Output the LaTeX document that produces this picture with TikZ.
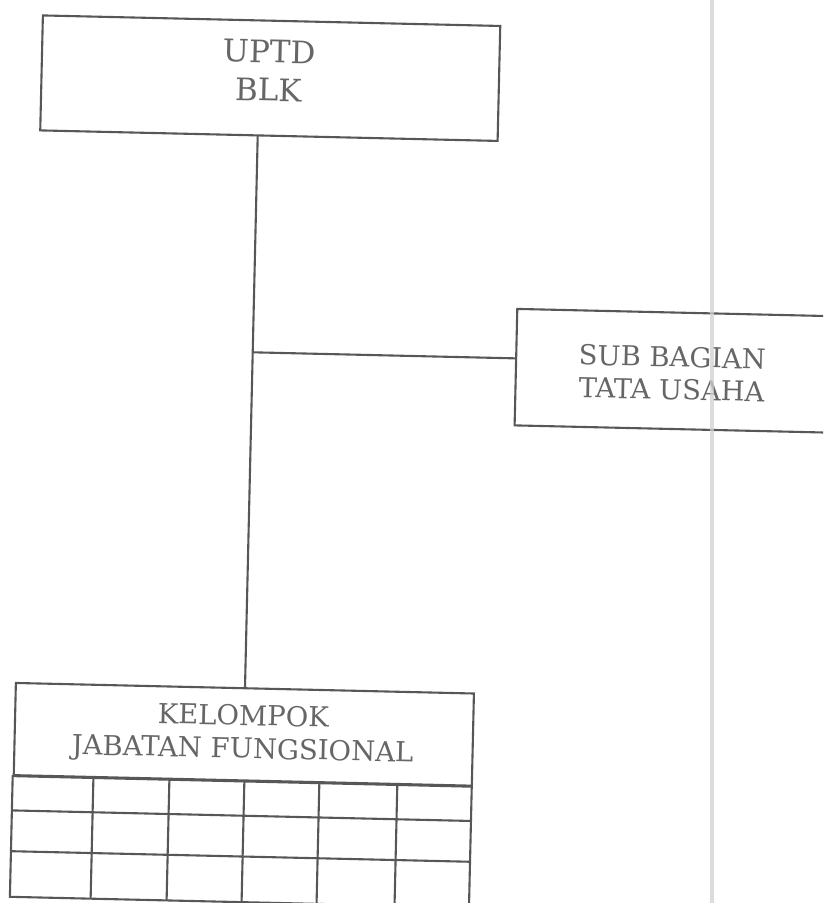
\documentclass[tikz,border=0pt]{standalone}
\usepackage{fontspec}
\setmainfont{DejaVu Serif}
\definecolor{ln}{gray}{0.34}
\definecolor{tx}{gray}{0.40}
\definecolor{foldc}{gray}{0.82}
\tikzset{
  box/.style={draw=ln, line width=2.1pt, rectangle, inner sep=0pt},
  lbl/.style={text=tx, align=center, inner sep=0pt},
  conn/.style={draw=ln, line width=2.1pt},
  gridline/.style={draw=ln, line width=2.1pt},
  fold/.style={draw=foldc, line width=4pt, opacity=0.75},
}
\begin{document}
\begin{tikzpicture}[x=1pt,y=-1pt]
\clip (0,0) rectangle (823,903);
\fill[white] (0,0) rectangle (823,903);
\begin{scope}[rotate around={-1.32:(411,451)}, transform shape]
  % top box
  \node[box, minimum width=457.5pt, minimum height=115pt] (uptd) at (261.7,81.5) {};
  \node[lbl, font=\fontsize{31}{38}\selectfont] (uptdT) at (260,74) {UPTD\\BLK};
  % side box
  \node[box, minimum width=312pt, minimum height=116.5pt] (sub) at (670,364.75) {};
  \node[lbl, font=\fontsize{27.4}{32.7}\selectfont] (subT) at (670.2,367.3) {SUB BAGIAN\\TATA USAHA};
  % bottom box header
  \node[box, minimum width=458.2pt, minimum height=92.2pt] (kel) at (250.4,738.1) {};
  \node[lbl, font=\fontsize{27.5}{33}\selectfont] (kelT) at (249.5,738.2) {KELOMPOK\\JABATAN FUNGSIONAL};
  % table grid
  \coordinate (tbr) at (479.5,906);
  \draw[gridline] (kel.south west) rectangle (tbr);
  \foreach \yy in {819.5,860.3} \draw[gridline] (21.3,\yy) -- (479.5,\yy);
  \foreach \xx in {101,177,252,327,405} \draw[gridline] (\xx,784.2) -- (\xx,906);
  % connectors
  \coordinate (vt) at (250.5,139);
  \coordinate (j) at (250.5,356);
  \coordinate (vb) at (250.5,692);
  \coordinate (sw) at (514,356);
  \draw[conn] (vt) -- (j) -- (vb);
  \draw[conn] (j) -- (sw);
\end{scope}
\coordinate (ft) at (711.5,0);
\coordinate (fb) at (711.5,903);
\draw[fold] (ft) -- (fb);
\end{tikzpicture}
\end{document}
